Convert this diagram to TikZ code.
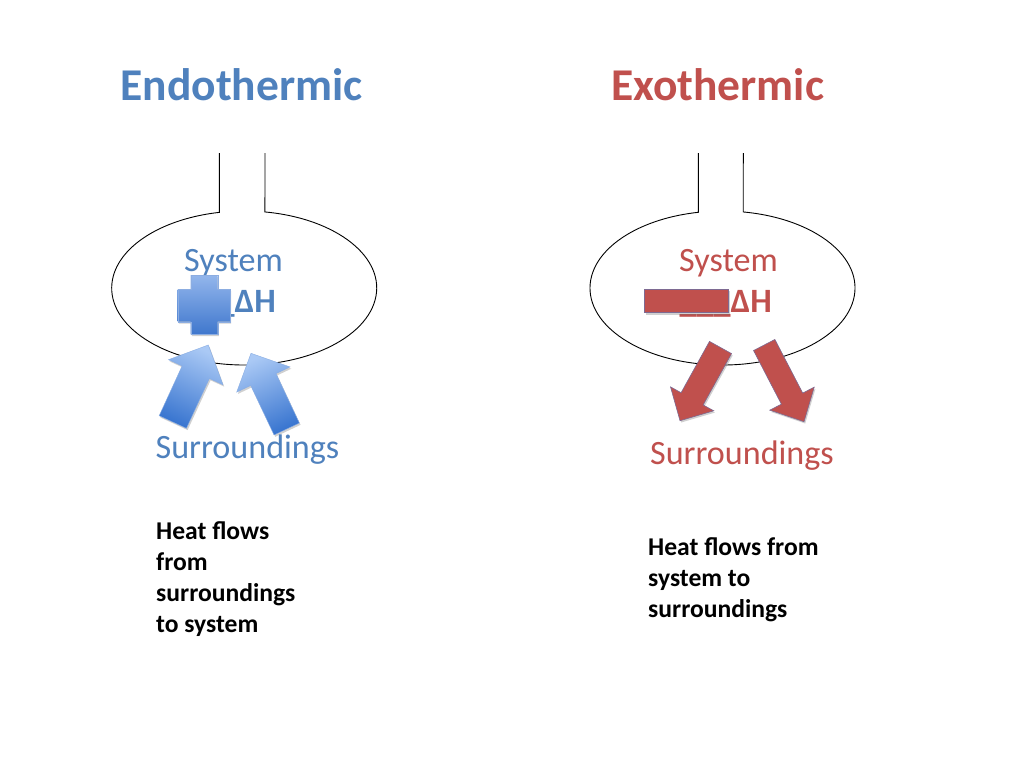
\documentclass[tikz,border=0pt]{standalone}
\usepackage{fontspec}
\setmainfont{Carlito}
\usetikzlibrary{calc,shadows}
\definecolor{eblue}{HTML}{4F81BD}
\definecolor{ered}{HTML}{C0504D}
\definecolor{ablueL}{HTML}{AAC9F5}
\definecolor{ablueD}{HTML}{3A76D0}
\definecolor{pblueL}{HTML}{93B6EC}
\definecolor{pblueD}{HTML}{3F77CD}
\definecolor{redline}{HTML}{7E6A92}
\newcommand\blockarrow[6]{%
  \coordinate (bT) at #2;
  \coordinate (bP) at #3;
  \coordinate (bB) at ($(bP)!#6!(bT)$);
  \path[#1] ($(bT)!#4!90:(bP)$) -- ($(bB)!#4!90:(bP)$) -- ($(bB)!#5!90:(bP)$) -- (bP)
    -- ($(bB)!#5!-90:(bP)$) -- ($(bB)!#4!-90:(bP)$) -- ($(bT)!#4!-90:(bP)$) -- cycle;}
\tikzset{
  title/.style={inner sep=0, anchor=base, font=\fontsize{45.5}{54}\selectfont\bfseries},
  label/.style={inner sep=0, anchor=base, font=\fontsize{34.1}{41}\selectfont},
  dh/.style={inner sep=0, anchor=base east, font=\fontsize{34.1}{41}\selectfont\bfseries},
  note/.style={inner sep=0, anchor=north west, align=left, font=\fontsize{25.6}{31}\selectfont\bfseries},
  vessel/.style={draw=black, line width=0.9pt},
  softshadow/.style={drop shadow={shadow xshift=1.2pt, shadow yshift=-1.8pt, opacity=0.3, fill=black!60}},
  bluearrow/.style={top color=ablueL, bottom color=ablueD, draw=ablueD!60!white, line width=0.4pt, softshadow},
  redshape/.style={fill=ered, draw=redline, line width=0.6pt, softshadow},
  plusshape/.style={top color=pblueL, bottom color=pblueD, draw=pblueD!60!white, line width=0.3pt, softshadow},
}
\begin{document}
\begin{tikzpicture}[x=1pt, y=-1pt]
\useasboundingbox[fill=white] (0,0) rectangle (1024,768);

% titles
\node[title, text=eblue] (endo) at (241.5,100) {Endothermic};
\node[title, text=ered] (exo) at (717.5,100) {Exothermic};

% vessels
\coordinate (cL) at (244.2,288);
\draw[vessel] (265,153) -- ($(cL)+(-81:132.5 and 77)$)
  arc[start angle=-81, end angle=259.2, x radius=132.5, y radius=77] -- (219.4,153);
\coordinate (cR) at (722.5,288);
\draw[vessel] (743.3,153) -- ($(cR)+(-81:132.5 and 77)$)
  arc[start angle=-81, end angle=259.5, x radius=132.5, y radius=77] -- (698.3,153);

% system labels
\node[label, text=eblue] (sysL) at (233.5,271.5) {System};
\node[label, text=ered] (sysR) at (728.5,271) {System};
\node[dh, text=eblue] (dhL) at (276,312) {\_\_\_ΔH};
\node[dh, text=ered] (dhR) at (772,312) {\_\_\_ΔH};

% plus sign
\path[plusshape] (190.7,275) -- (217.7,275) -- (217.7,289.3) -- (230,289.3) -- (230,321.7)
  -- (217.7,321.7) -- (217.7,334.3) -- (190.7,334.3) -- (190.7,321.7) -- (177.7,321.7)
  -- (177.7,289.3) -- (190.7,289.3) -- cycle;
% minus sign
\path[redshape] (644.3,289) rectangle (728.3,312.7);

% arrows in (endothermic)
\blockarrow{bluearrow, shading angle=-25}{(172.8,422)}{(208.3,345)}{15pt}{30pt}{30pt}
\blockarrow{bluearrow, shading angle=25}{(286.7,429)}{(251,353.3)}{14pt}{29.5pt}{29pt}
% arrows out (exothermic)
\blockarrow{redshape}{(720.5,347.5)}{(680,420.7)}{12.6pt}{24.7pt}{25pt}
\blockarrow{redshape}{(764.2,345)}{(804,421.7)}{12pt}{25pt}{26pt}

% surroundings
\node[label, text=eblue] (surL) at (247.5,458) {Surroundings};
\node[label, text=ered] (surR) at (742,464) {Surroundings};

% notes
\node[note] (noteL) at (156,521) {Heat flows\\from\\surroundings\\to system};
\node[note] (noteR) at (648,537) {Heat flows from\\system to\\surroundings};
\end{tikzpicture}
\end{document}
